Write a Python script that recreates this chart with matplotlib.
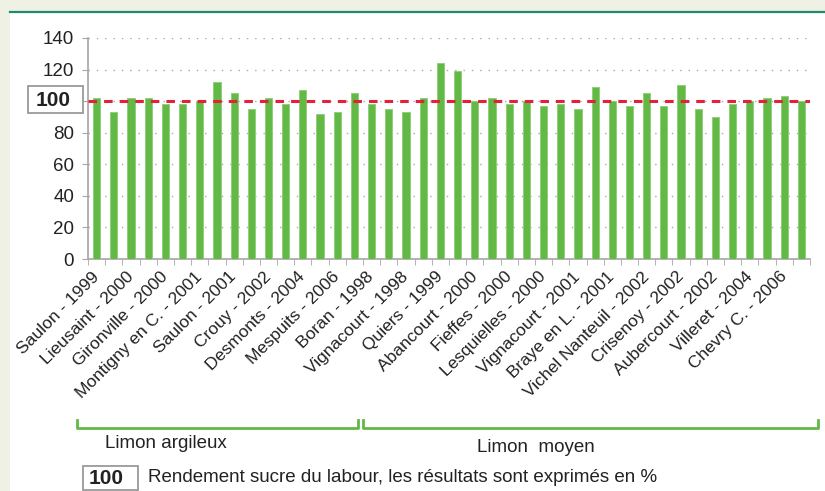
import matplotlib
matplotlib.use('Agg')
import matplotlib.pyplot as plt
from matplotlib.patches import Rectangle
from matplotlib.lines import Line2D
import numpy as np

plt.rcParams['font.family'] = ['Liberation Sans', 'DejaVu Sans']

# one bar per trial, sites labelled every other bar
values = [102, 93, 102, 102, 98, 98, 100, 112, 105, 95, 102, 98,
          107, 92, 93, 105, 98, 95, 93, 102, 124, 119, 100, 102,
          98, 100, 97, 98, 95, 109, 100, 97, 105, 97, 110, 95,
          90, 98, 100, 102, 103, 100]
site_labels = ['Saulon - 1999', 'Lieusaint - 2000', 'Gironville - 2000',
               'Montigny en C. - 2001', 'Saulon - 2001', 'Crouy - 2002',
               'Desmonts - 2004', 'Mespuits - 2006', 'Boran - 1998',
               'Vignacourt - 1998', 'Quiers - 1999', 'Abancourt - 2000',
               'Fieffes - 2000', 'Lesquielles - 2000', 'Vignacourt - 2001',
               'Braye en L. - 2001', 'Vichel Nanteuil - 2002', 'Crisenoy - 2002',
               'Aubercourt - 2002', 'Villeret - 2004', 'Chevry C. - 2006']
groups = ['Limon argileux', 'Limon  moyen']
reference = 100
yticks = [0, 20, 40, 60, 80, 100, 120, 140]

W, H = 825, 491
fig = plt.figure(figsize=(W / 100, H / 100), dpi=100, facecolor='white')


def fx(px):
    return px / W


def fy(py):
    return 1 - py / H


def boxed_label(x0, x1, y0, y1, text, tx):
    # white box with grey border and a bold number inside (pixel coords)
    fig.patches.append(Rectangle((fx(x0), fy(y1)), fx(x1) - fx(x0), fy(y0) - fy(y1),
                                 transform=fig.transFigure, facecolor='white',
                                 edgecolor='#9a9a9a', lw=1.3, zorder=5))
    fig.text(fx(tx), fy((y0 + y1) / 2 + 0.5), text, fontsize=15, fontweight='bold',
             color='#222222', ha='center', va='center', zorder=6)


# page frame: beige strip on the left and top, teal rule
beige = '#eff1e4'
fig.patches.append(Rectangle((0, 0), fx(10), 1, transform=fig.transFigure,
                             facecolor=beige, edgecolor='none', zorder=0))
fig.patches.append(Rectangle((0, fy(11)), 1, 1 - fy(11), transform=fig.transFigure,
                             facecolor=beige, edgecolor='none', zorder=0))
fig.lines.append(Line2D([fx(10), 1], [fy(11.5), fy(11.5)], transform=fig.transFigure,
                        color='#1f8a6a', lw=1.6))

ax = fig.add_axes([fx(88), fy(259), fx(810) - fx(88), fy(38) - fy(259)])
x = np.arange(len(values))
ax.bar(x, values, width=0.42, color='#62b946', edgecolor='#8fd07a',
       linewidth=0.7, zorder=3)
ax.axhline(reference, color='#e5203b', lw=2.2, linestyle=(0, (2.8, 2.3)), zorder=4)

ax.set_xlim(-0.5, len(values) - 0.5)
ax.set_ylim(0, 140)
ax.set_yticks(yticks)
ax.set_yticklabels(['' if v == reference else str(v) for v in yticks],
                   fontsize=13.5, color='#222222')
ax.yaxis.grid(True, linestyle=(0, (1, 5)), color='#a8a8a8', lw=1, zorder=0)
ax.set_axisbelow(True)

ax.set_xticks(x[::2])
ax.set_xticklabels(site_labels, rotation=45, ha='right', va='center',
                   rotation_mode='anchor', fontsize=12.5, color='#222222')
ax.set_xticks(np.arange(-0.5, len(values)), minor=True)
ax.tick_params(axis='x', which='major', length=0, pad=11)
ax.tick_params(axis='x', which='minor', length=4, color='#a6a6a6')
ax.tick_params(axis='y', length=4, color='#a6a6a6', pad=6)

for side in ['top', 'right']:
    ax.spines[side].set_visible(False)
for side in ['left', 'bottom']:
    ax.spines[side].set_color('#a6a6a6')
    ax.spines[side].set_linewidth(1.2)

# boxed reference label on the y axis, centred on the reference value
ref_py = H - ax.transData.transform((0, reference))[1]
boxed_label(28, 83, ref_py - 15, ref_py + 12, str(reference), 53)

# soil type brackets
bracket_px = [(77, 358), (363, 818)]
for (x0, x1) in bracket_px:
    fig.lines.append(Line2D([fx(x0), fx(x0), fx(x1), fx(x1)],
                            [fy(420), fy(427.5), fy(427.5), fy(420)],
                            transform=fig.transFigure, color='#62b946', lw=2))
fig.text(fx(105), fy(443), groups[0], fontsize=13.5, color='#222222', va='center', ha='left')
fig.text(fx(477), fy(448), groups[1], fontsize=13.5, color='#222222', va='center', ha='left')

# legend
boxed_label(83, 138, 466, 490, str(reference), 106)
fig.text(fx(148), fy(478), 'Rendement sucre du labour, les résultats sont exprimés en %',
         fontsize=13.5, color='#222222', ha='left', va='center')

fig.savefig('out.png', dpi=100, facecolor=fig.get_facecolor())
